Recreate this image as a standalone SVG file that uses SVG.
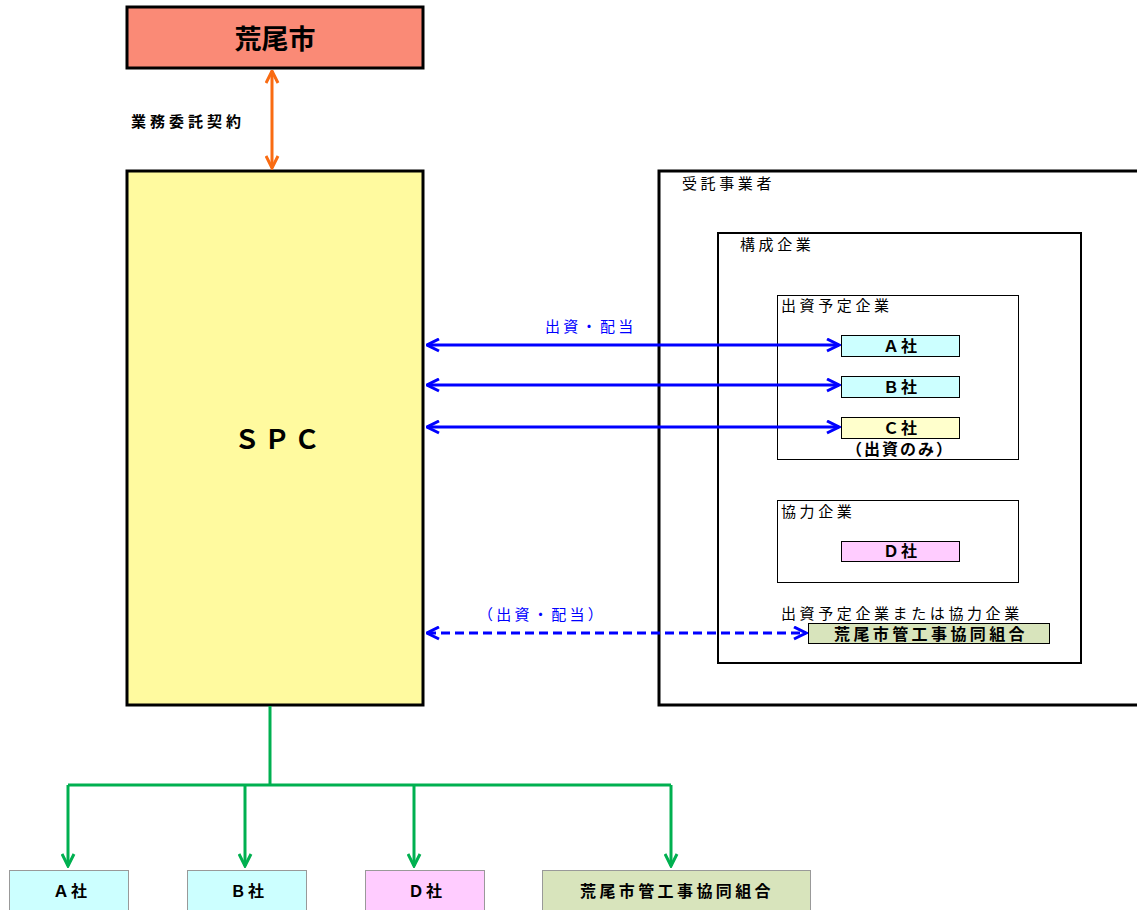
<svg xmlns="http://www.w3.org/2000/svg" width="1137" height="910" viewBox="0 0 1137 910">
<style>
text{font-family:"Liberation Sans","Noto Sans CJK JP",sans-serif;fill:#000}
.b{font-weight:bold}
.lbl{font-size:15px;letter-spacing:3.6px}
.small{font-size:16px;font-weight:bold;text-anchor:middle;letter-spacing:2px}
.long{font-size:16px;font-weight:bold;text-anchor:middle;letter-spacing:3.4px}
.blue{fill:#0000FF;font-size:15px;letter-spacing:3.3px}
.frame{fill:#fff;stroke:#000}
.co{stroke:#000;stroke-width:1}
.bot{stroke:#999;stroke-width:1}
.cyan{fill:#CCFFFF}
.pink{fill:#FFCCFF}
.ylw{fill:#FFFFCC}
.olive{fill:#D8E4BC}
</style>
<defs>
<marker id="ao" viewBox="0 0 10 10" refX="9" refY="5" markerWidth="5" markerHeight="5" orient="auto-start-reverse" markerUnits="strokeWidth"><path d="M1,1 L9,5 L1,9" fill="none" stroke="#F96B12" stroke-width="2"/></marker>
<marker id="ab" viewBox="0 0 10 10" refX="9" refY="5" markerWidth="5" markerHeight="5" orient="auto-start-reverse" markerUnits="strokeWidth"><path d="M1,1 L9,5 L1,9" fill="none" stroke="#0000FF" stroke-width="2"/></marker>
<marker id="ag" viewBox="0 0 10 10" refX="9" refY="5" markerWidth="5" markerHeight="5" orient="auto" markerUnits="strokeWidth"><path d="M1,1 L9,5 L1,9" fill="none" stroke="#00B050" stroke-width="2"/></marker>
</defs>

<g id="arao">
<rect x="127" y="7" width="296" height="61" fill="#FA8A76" stroke="#000" stroke-width="3"/>
<text x="275" y="49" font-size="27" class="b" text-anchor="middle">荒尾市</text>
</g>

<g id="spc">
<rect x="127" y="171" width="296" height="534" fill="#FFFA9F" stroke="#000" stroke-width="3"/>
<text x="279" y="449" font-size="26" font-weight="bold" text-anchor="middle" letter-spacing="4">ＳＰＣ</text>
</g>

<g id="jutaku">
<path d="M1137,171 H659 V705 H1137" class="frame" stroke-width="3"/>
<text x="682" y="189" class="lbl">受託事業者</text>
</g>

<g id="kousei">
<rect x="718" y="233" width="363" height="430" class="frame" stroke-width="2"/>
<text x="740" y="250" class="lbl">構成企業</text>
</g>

<g id="shusshi">
<rect x="777.5" y="295.5" width="241" height="164" class="frame" stroke-width="1"/>
<text x="781" y="311" class="lbl">出資予定企業</text>
</g>

<g id="a-inner">
<rect x="841.5" y="335.5" width="118" height="21" class="cyan co"/>
<text x="901" y="352" class="small">Ａ社</text>
</g>
<g id="b-inner">
<rect x="841.5" y="376.5" width="118" height="21" class="cyan co"/>
<text x="901" y="393" class="small">Ｂ社</text>
</g>
<g id="c-inner">
<rect x="841.5" y="417.5" width="118" height="21" class="ylw co"/>
<text x="901" y="434" class="small">Ｃ社</text>
<text x="900" y="455" class="small" letter-spacing="0.5">（出資のみ）</text>
</g>

<g id="kyoryoku">
<rect x="777.5" y="500.5" width="241" height="82" class="frame" stroke-width="1"/>
<text x="781" y="517" class="lbl">協力企業</text>
</g>
<g id="d-inner">
<rect x="841.5" y="541.5" width="118" height="20" class="pink co"/>
<text x="901" y="557" class="small">Ｄ社</text>
</g>

<g id="kumiai-inner">
<text x="781" y="619" class="lbl" letter-spacing="3.7">出資予定企業または協力企業</text>
<rect x="808.5" y="623.5" width="241" height="20" class="olive co"/>
<text x="931" y="640" class="long">荒尾市管工事協同組合</text>
</g>

<g id="bottom-a">
<rect x="9.5" y="870.5" width="119" height="45" class="cyan bot"/>
<text x="71" y="897" class="small">Ａ社</text>
</g>
<g id="bottom-b">
<rect x="187.5" y="870.5" width="119" height="45" class="cyan bot"/>
<text x="248" y="897" class="small">Ｂ社</text>
</g>
<g id="bottom-d">
<rect x="365.5" y="870.5" width="119" height="45" class="pink bot"/>
<text x="426" y="897" class="small">Ｄ社</text>
</g>
<g id="bottom-kumiai">
<rect x="542.5" y="870.5" width="268" height="45" class="olive bot"/>
<text x="677" y="897" class="long">荒尾市管工事協同組合</text>
</g>

<g id="connectors">
<line x1="272" y1="71" x2="272" y2="168" stroke="#F96B12" stroke-width="3" marker-start="url(#ao)" marker-end="url(#ao)"/>
<text x="131" y="127" class="b" font-size="15" letter-spacing="4">業務委託契約</text>

<g stroke="#0000FF" stroke-width="3" fill="none">
<line x1="427" y1="345" x2="839" y2="345" marker-start="url(#ab)" marker-end="url(#ab)"/>
<line x1="427" y1="385" x2="839" y2="385" marker-start="url(#ab)" marker-end="url(#ab)"/>
<line x1="427" y1="427" x2="839" y2="427" marker-start="url(#ab)" marker-end="url(#ab)"/>
<line x1="427" y1="633" x2="806" y2="633" stroke-dasharray="9,5" marker-start="url(#ab)" marker-end="url(#ab)"/>
</g>
<text x="545" y="332" class="blue">出資・配当</text>
<text x="478" y="620" class="blue" letter-spacing="3.2">（出資・配当）</text>

<g stroke="#00B050" stroke-width="3" fill="none">
<polyline points="270,706 270,785"/>
<polyline points="68,785 671,785"/>
<line x1="68" y1="785" x2="68" y2="866" marker-end="url(#ag)"/>
<line x1="245" y1="785" x2="245" y2="866" marker-end="url(#ag)"/>
<line x1="414" y1="785" x2="414" y2="866" marker-end="url(#ag)"/>
<line x1="671" y1="785" x2="671" y2="866" marker-end="url(#ag)"/>
</g>
</g>
</svg>
